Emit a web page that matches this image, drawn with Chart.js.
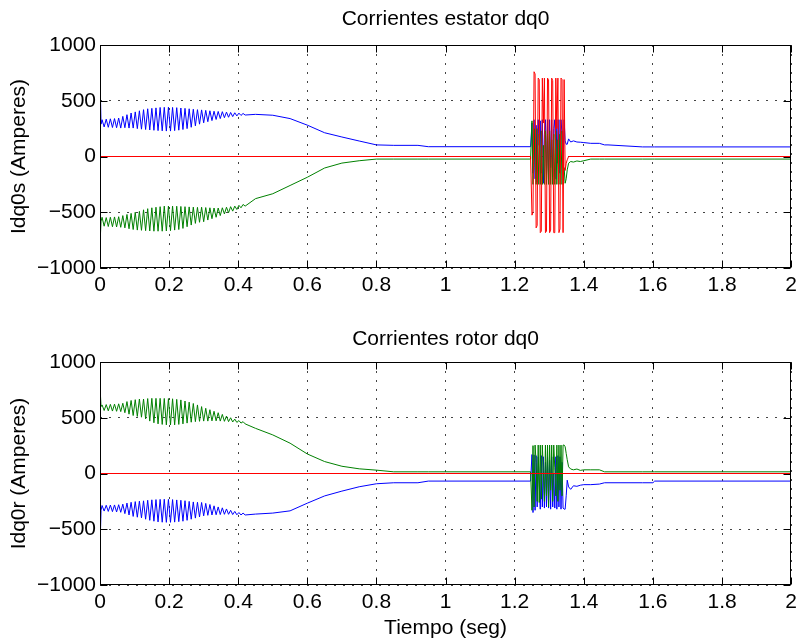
<!DOCTYPE html>
<html><head><meta charset="utf-8">
<script src="https://cdn.jsdelivr.net/npm/chart.js@4.4.0/dist/chart.umd.min.js"></script>
<style>
html,body{margin:0;padding:0;background:#fff;}
#wrap{position:relative;width:802px;height:641px;overflow:hidden;background:#fff;}
#c1{position:absolute;left:0;top:0;}
#c2{position:absolute;left:0;top:300px;}
</style></head><body>
<div id="wrap"><canvas id="c1" width="802" height="300"></canvas><canvas id="c2" width="802" height="341"></canvas></div>
<script>
// ---- tick labels ----
const xTickLabels = ['0','0.2','0.4','0.6','0.8','1','1.2','1.4','1.6','1.8','2'];
const yTickVals = [-1000,-500,0,500,1000];
const yTickLabels = ['\u22121000','\u2212500','0','500','1000'];

// ---- time bases (seg) ----
const tStart = [0,0.001,0.003,
0.006,0.012,0.018,0.024,0.030,0.036,0.042,0.048,0.054,0.060,
0.066,0.072,0.078,0.084,0.090,0.096,0.102,0.108,0.114,0.120,
0.126,0.132,0.138,0.144,0.150,0.156,0.162,0.168,0.174,0.180,
0.186,0.192,0.198,0.204,0.210,0.216,0.222,0.228,0.234,0.240,
0.246,0.252,0.258,0.264,0.270,0.276,0.282,0.288,0.294,0.300,
0.306,0.312,0.318,0.324,0.330,0.336,0.342,0.348,0.354,0.360,
0.366,0.372,0.378,0.384,0.390,0.396,0.402,0.408,0.414,0.420];
const tTrans = [0.45,0.50,0.55,0.60,0.65,0.70,0.75,0.80,0.85,0.92,0.95,1.246];
const tFault = [1.250,1.253,1.256,1.259,1.262,1.265,1.268,1.271,1.274,1.277,1.280,1.283,1.286,1.289,1.292,1.295,1.298,1.301,1.304,1.307,1.310,1.313,1.316,1.319,1.322,1.325,1.328,1.331,1.334,1.337,1.340,1.343,1.346,1.349];
const tTail = [1.352,1.356,1.362,1.370,1.380,1.390,1.400,1.420,1.445,1.460,1.470,1.570,1.600,1.605,2.000];

// ---- Corrientes estator (Amperes) ----
const isdStart = [0,580,290,
330,265,335,262,338,260,340,258,345,255,
360,258,375,255,390,255,400,250,410,245,
420,242,428,238,432,235,436,232,440,230,
441,228,442,228,440,232,438,236,435,242,
432,250,428,262,424,275,420,290,418,302,
414,312,410,322,406,332,404,340,402,348,
398,352,395,358,392,364,389,368,386,372];
const isdTrans = [378,370,340,281,213,175,139,104,100,100,88,88];
const isdFault = [300,-150,330,-200,280,-230,330,100,320,-150,330,-240,200,330,-160,330,-200,330,-100,330,-180,250,330,-200,330,-60,330,-150,330,200,-100,330,140,110];
const isdTail = [110,158,130,140,130,128,125,118,118,104,104,86,86,86,86];

const isqStart = [0,-720,-580,
-545,-625,-548,-628,-545,-630,-542,-632,-540,-635,
-530,-640,-520,-648,-510,-655,-500,-660,-492,-662,
-478,-665,-468,-668,-460,-670,-455,-670,-450,-670,
-445,-668,-444,-665,-445,-660,-446,-655,-448,-645,
-450,-630,-452,-615,-454,-600,-456,-590,-455,-585,
-458,-570,-460,-558,-462,-545,-462,-530,-460,-515,
-455,-505,-450,-490,-445,-475,-438,-460,-430,-445];
const isqTrans = [-378,-334,-260,-186,-103,-59,-38,-23,-23,-23,-23,-23];
const isqFault = [320,-250,250,-100,-250,250,-250,200,-250,230,-250,100,-250,230,-250,200,-250,230,-250,150,-250,200,-250,230,-250,150,-250,200,-250,230,-250,-100,-240,-200];
const isqTail = [-120,-60,-45,-50,-40,-45,-38,-23,-23,-23,-23,-23,-23,-23,-23];

const tIs0 = [0,1.246];
const is0Head = [0,0];
const is0Fault = [-526,-500,760,740,-640,-620,703,690,-683,-670,703,300,703,-683,-670,703,690,-683,-660,703,680,-683,-683,703,250,703,-683,-650,703,690,-683,690,-125,-60];
const tIs0Tail = [1.352,1.356,2.0];
const is0Tail = [-30,0,0];

// ---- Corrientes rotor (Amperes) ----
const irdStart = [0,-560,-330,
-287,-337,-285,-340,-283,-342,-282,-345,-280,-348,
-275,-360,-265,-372,-258,-385,-252,-392,-248,-398,
-245,-410,-240,-420,-236,-428,-234,-434,-232,-437,
-231,-438,-232,-438,-234,-436,-237,-432,-240,-428,
-244,-420,-250,-410,-255,-400,-258,-390,-260,-380,
-268,-375,-278,-372,-290,-370,-300,-368,-308,-366,
-318,-366,-330,-368,-340,-370,-350,-372,-355,-372];
const irdTrans = [-364,-355,-335,-266,-201,-158,-119,-92,-83,-83,-68,-68];
const irdFault = [170,-350,167,-330,160,-300,150,-100,-320,160,-300,150,-310,100,-300,150,-310,120,-320,150,-300,0,-310,150,-320,160,-300,150,-320,100,-310,-320,-320,-200];
const irdTail = [-60,-120,-142,-110,-115,-105,-100,-100,-95,-83,-83,-83,-83,-68,-68];

const irqStart = [0,720,600,
615,565,618,562,620,560,622,558,625,555,
630,545,645,532,655,520,662,512,668,505,
668,490,672,470,674,455,674,445,674,440,
673,436,672,435,670,436,665,440,660,445,
650,452,640,460,628,465,615,468,600,470,
585,470,572,472,558,472,545,470,530,468,
515,465,500,462,488,458,475,452,465,445];
const irqTrans = [405,346,272,175,107,65,42,30,15,15,15,15];
const irqFault = [-330,250,-300,255,100,-250,255,-260,255,-230,255,0,-250,255,-200,255,-300,255,-150,255,-250,255,50,-200,255,-250,255,-150,255,-200,255,255,240,180];
const irqTail = [124,60,40,33,40,28,33,33,33,15,15,15,15,15,15];

const tIr0 = [0,2];
const ir0 = [0,0];

// ---- build ----
const tAll = [...tStart, ...tTrans, ...tFault, ...tTail];
const pts = (ts, vs) => ts.map((t, i) => ({x: t, y: vs[i]}));

const FONT = "'Liberation Sans', Arial, Helvetica, sans-serif";
Chart.defaults.font.family = FONT;
Chart.defaults.font.size = 21;
Chart.defaults.color = '#000';
Chart.defaults.animation = false;

const boxPlugin = {
  id: 'matlabBox',
  afterDraw(chart) {
    const {ctx, chartArea: a, scales: {x, y}} = chart;
    const L = Math.round(a.left) + 0.5, R = Math.round(a.right) - 0.5;
    const T = Math.round(a.top) + 0.5, B = Math.round(a.bottom) - 0.5;
    const tl = 7;
    ctx.save();
    ctx.strokeStyle = '#000';
    ctx.lineWidth = 1;
    ctx.setLineDash([]);
    ctx.beginPath();
    x.ticks.forEach(t => {
      const px = Math.round(x.getPixelForValue(t.value)) + 0.5;
      ctx.moveTo(px, B); ctx.lineTo(px, B - tl);
      ctx.moveTo(px, T); ctx.lineTo(px, T + tl);
    });
    y.ticks.forEach(t => {
      const py = Math.round(y.getPixelForValue(t.value)) + 0.5;
      ctx.moveTo(L, py); ctx.lineTo(L + tl, py);
      ctx.moveTo(R, py); ctx.lineTo(R - tl, py);
    });
    ctx.stroke();
    ctx.strokeRect(L, T, R - L, B - T);
    ctx.restore();
  }
};

function makeChart(id, title, yTitle, xTitle, datasets, g) {
  return new Chart(document.getElementById(id), {
    type: 'line',
    data: {datasets},
    plugins: [boxPlugin],
    options: {
      responsive: false,
      animation: false,
      layout: {padding: {left: 0, right: 7, top: 0, bottom: 0}},
      elements: {point: {radius: 0}, line: {tension: 0, borderWidth: 1}},
      plugins: {
        legend: {display: false},
        tooltip: {enabled: false},
        title: {display: true, text: title, fullSize: false, color: '#000',
                font: {size: 21, weight: 'normal'}, padding: g.titlePad}
      },
      scales: {
        x: {
          type: 'linear', min: 0, max: 2,
          ticks: {stepSize: 0.2, autoSkip: false, maxRotation: 0, padding: 5,
                  callback: (v, i) => xTickLabels[i]},
          grid: {color: '#444', lineWidth: 1, drawTicks: false},
          border: {display: false, dash: [2, 7]},
          title: {display: !!xTitle, text: xTitle || '', font: {size: 21}, padding: {top: 0, bottom: 0}},
          afterFit: s => { s.height = g.xH; }
        },
        y: {
          type: 'linear', min: -1000, max: 1000,
          ticks: {stepSize: 500, padding: 4,
                  callback: v => { const i = yTickVals.indexOf(v); return i >= 0 ? yTickLabels[i] : ''; }},
          grid: {color: '#444', lineWidth: 1, drawTicks: false},
          border: {display: false, dash: [2, 7]},
          title: {display: true, text: yTitle, font: {size: 21}, padding: {top: 7, bottom: 0}},
          afterFit: s => { s.width = 100; }
        }
      }
    }
  });
}

const BLUE = '#0000ff', GREEN = '#008000', RED = '#ff0000';
const lineDs = (data, color, order) => ({data, borderColor: color, backgroundColor: color, borderWidth: 1, pointRadius: 0, fill: false, order});

makeChart('c1', 'Corrientes estator dq0', 'Idq0s (Amperes)', null, [
  lineDs(pts(tAll, [...isdStart, ...isdTrans, ...isdFault, ...isdTail]), BLUE, 2),
  lineDs(pts(tAll, [...isqStart, ...isqTrans, ...isqFault, ...isqTail]), GREEN, 1),
  lineDs(pts([...tIs0, ...tFault, ...tIs0Tail], [...is0Head, ...is0Fault, ...is0Tail]), RED, 0)
], {titlePad: {top: 7, bottom: 12.8}, xH: 32});

makeChart('c2', 'Corrientes rotor dq0', 'Idq0r (Amperes)', 'Tiempo (seg)', [
  lineDs(pts(tAll, [...irdStart, ...irdTrans, ...irdFault, ...irdTail]), BLUE, 2),
  lineDs(pts(tAll, [...irqStart, ...irqTrans, ...irqFault, ...irqTail]), GREEN, 1),
  lineDs(pts(tIr0, ir0), RED, 0)
], {titlePad: {top: 26.4, bottom: 10.4}, xH: 56});
</script>
</body></html>
